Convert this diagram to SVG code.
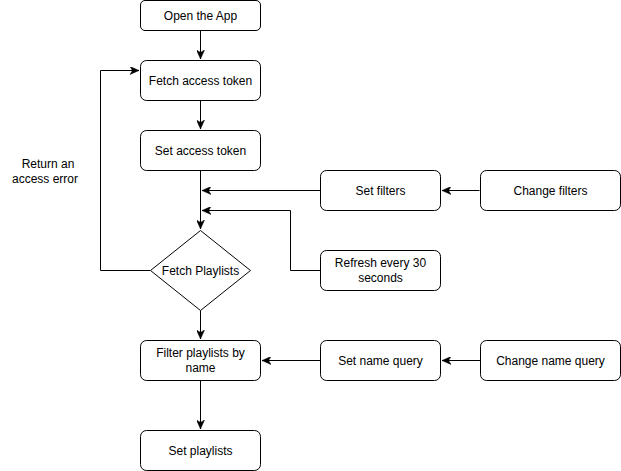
<svg xmlns="http://www.w3.org/2000/svg" width="621" height="471" viewBox="0 0 621 471">
<defs>
<style>
.n{fill:#fff;stroke:#000;stroke-width:1}
.t{font-family:"Liberation Sans",Arial,sans-serif;font-size:12px;fill:#000;text-anchor:middle}
.e{fill:none;stroke:#000;stroke-width:1}
</style>
<marker id="a" viewBox="0 0 10 8" refX="9" refY="4" markerWidth="10" markerHeight="8" markerUnits="userSpaceOnUse" orient="auto">
<path d="M0,0 L9,4 L0,8 L2.5,4 z" fill="#000" stroke="#000" stroke-width="0.5"/>
</marker>
</defs>
<rect width="621" height="471" fill="#fff"/>
<g id="edges">
<path class="e" d="M200.5,30.5 V59" marker-end="url(#a)"/>
<path class="e" d="M200.5,100.5 V129" marker-end="url(#a)"/>
<path class="e" d="M200.5,170.5 V229" marker-end="url(#a)"/>
<path class="e" d="M320.5,190.5 H202" marker-end="url(#a)"/>
<path class="e" d="M320.5,270.5 H290.5 V210.5 H202" marker-end="url(#a)"/>
<path class="e" d="M479.5,190.5 H442" marker-end="url(#a)"/>
<path class="e" d="M150.5,270.5 H100.5 V70.5 H139" marker-end="url(#a)"/>
<path class="e" d="M200.5,310.5 V339" marker-end="url(#a)"/>
<path class="e" d="M320.5,360.5 H262" marker-end="url(#a)"/>
<path class="e" d="M480.5,360.5 H442" marker-end="url(#a)"/>
<path class="e" d="M200.5,380.5 V429" marker-end="url(#a)"/>
</g>
<g id="open">
<rect class="n" x="140.5" y="0.5" width="120" height="30" rx="4.5"/>
<text class="t" x="200.5" y="20">Open the App</text>
</g>
<g id="fetchToken">
<rect class="n" x="140.5" y="60.5" width="120" height="40" rx="6"/>
<text class="t" x="200.5" y="85">Fetch access token</text>
</g>
<g id="setToken">
<rect class="n" x="140.5" y="130.5" width="120" height="40" rx="6"/>
<text class="t" x="200.5" y="155">Set access token</text>
</g>
<g id="fetchPlaylists">
<path class="n" d="M200.5,230.5 L250.5,270.5 L200.5,310.5 L150.5,270.5 Z"/>
<text class="t" x="200.5" y="275">Fetch Playlists</text>
</g>
<g id="setFilters">
<rect class="n" x="320.5" y="170.5" width="120" height="40" rx="6"/>
<text class="t" x="380.5" y="195">Set filters</text>
</g>
<g id="changeFilters">
<rect class="n" x="480.5" y="170.5" width="140" height="40" rx="6"/>
<text class="t" x="550.5" y="195">Change filters</text>
</g>
<g id="refresh">
<rect class="n" x="320.5" y="250.5" width="120" height="40" rx="6"/>
<text class="t" x="380.5" y="267">Refresh every 30</text>
<text class="t" x="380.5" y="282">seconds</text>
</g>
<g id="errorLabel">
<text class="t" x="48" y="168">Return an</text>
<text class="t" x="45" y="183">access error</text>
</g>
<g id="filterByName">
<rect class="n" x="140.5" y="340.5" width="120" height="40" rx="6"/>
<text class="t" x="200.5" y="357">Filter playlists by</text>
<text class="t" x="200.5" y="372">name</text>
</g>
<g id="setNameQuery">
<rect class="n" x="320.5" y="340.5" width="120" height="40" rx="6"/>
<text class="t" x="380.5" y="365">Set name query</text>
</g>
<g id="changeNameQuery">
<rect class="n" x="480.5" y="340.5" width="140" height="40" rx="6"/>
<text class="t" x="550.5" y="365">Change name query</text>
</g>
<g id="setPlaylists">
<rect class="n" x="140.5" y="430.5" width="120" height="40" rx="6"/>
<text class="t" x="200.5" y="455">Set playlists</text>
</g>
</svg>
